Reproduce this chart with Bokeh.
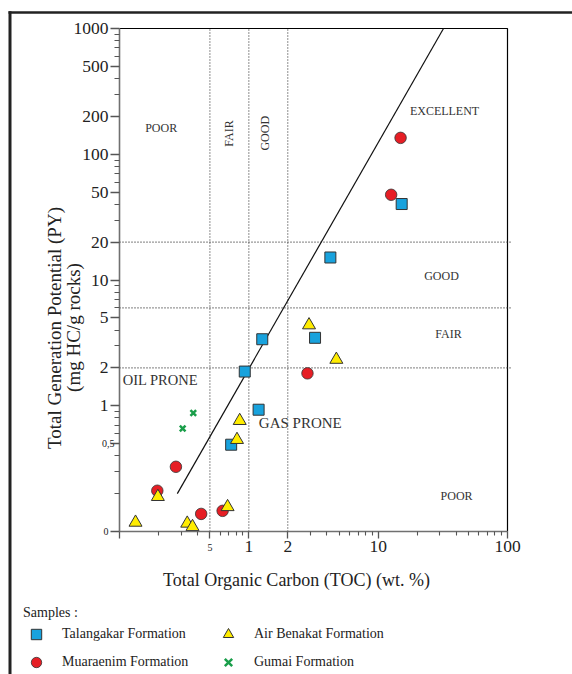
import math
from bokeh.plotting import figure
from bokeh.models import (Range1d, FixedTicker, Label, Legend, LegendItem, LogAxis)
from bokeh.embed import file_html
from bokeh.resources import INLINE

# ---------------- data ----------------
talangakar_toc = [0.73, 1.19, 0.93, 1.27, 3.25, 4.27, 15.2]
talangakar_py = [0.49, 0.93, 1.87, 3.38, 3.47, 15.1, 40.2]

muaraenim_toc = [0.273, 0.196, 0.428, 0.627, 2.84, 12.6, 14.9]
muaraenim_py = [0.327, 0.211, 0.138, 0.146, 1.81, 47.6, 135]

airbenakat_toc = [0.133, 0.198, 0.334, 0.367, 0.685, 0.81, 0.85, 2.92, 4.75]
airbenakat_py = [0.118, 0.189, 0.116, 0.109, 0.157, 0.537, 0.76, 4.38, 2.33]

gumai_toc = [0.372, 0.308]
gumai_py = [0.875, 0.66]

# class boundaries
toc_boundaries = [0.5, 1, 2]
py_boundaries = [2, 6, 20]
prone_line_toc = [0.28, 32]
prone_line_py = [0.2, 1000]

# axis extents and ticks
X0, X1 = 0.1, 100
Y0, Y1 = 0.1, 1000
x_ticks = [0.1, 0.5, 1, 2, 10, 100]
x_tick_labels = ["", "", "1", "2", "10", "100"]
x_minor = [0.2, 0.3, 0.4, 0.6, 0.7, 0.8, 0.9, 3, 4, 5, 6, 7, 8, 9,
           20, 30, 40, 50, 60, 70, 80, 90]
y_ticks = [0.1, 0.5, 1, 2, 5, 10, 20, 50, 100, 200, 500, 1000]
y_tick_labels = ["", "", "1", "2", "5", "10", "20", "50", "100", "200", "500", "1000"]
y_minor = [0.2, 0.3, 0.4, 0.6, 0.7, 0.8, 0.9, 3, 4, 6, 7, 8, 9,
           30, 40, 60, 70, 80, 90, 300, 400, 600, 700, 800, 900]
small_y_ticks = [0.1, 0.5]
small_y_labels = ["0", "0,5"]
small_x_ticks = [0.5]
small_x_labels = ["5"]

legend_labels = ["Talangakar Formation", "Muaraenim Formation",
                 "Air Benakat Formation", "Gumai Formation"]

SERIF = "Liberation Serif"
BLUE = "#18a2dd"
RED = "#e61e25"
YELLOW = "#ffec00"
GREEN = "#1a9e4a"
EDGE = "#333333"
DARK = "#222222"

# ---------------- layout geometry (page pixels) ----------------
W, H = 572, 674
FL, FR, FT, FB = 119, 507, 28, 531   # where the data box sits on the page


def x_at(px):
    return 10 ** (math.log10(X0) + (px - FL) / (FR - FL) * math.log10(X1 / X0))


def y_at(py):
    return 10 ** (math.log10(Y0) + (FB - py) / (FB - FT) * math.log10(Y1 / Y0))


# the frame covers the whole canvas; the data box is the region X0..X1 x Y0..Y1
p = figure(width=W, height=H, x_axis_type="log", y_axis_type="log",
           x_range=Range1d(x_at(0), x_at(W)), y_range=Range1d(y_at(H), y_at(0)),
           output_backend="svg", toolbar_location=None,
           x_axis_location=None, y_axis_location=None, min_border=0)
p.grid.visible = False
p.outline_line_color = None
p.background_fill_color = "white"
p.border_fill_color = "white"


def style_axis(ax, tick_out, minor_out, standoff):
    ax.axis_line_color = "#707070"
    ax.axis_line_width = 1.6
    ax.major_tick_line_color = "#555555"
    ax.minor_tick_line_color = "#555555"
    ax.major_tick_line_width = 1.3
    ax.minor_tick_line_width = 1.1
    ax.major_tick_in = 0
    ax.minor_tick_in = 0
    ax.major_tick_out = tick_out
    ax.minor_tick_out = minor_out
    ax.major_label_standoff = standoff
    ax.major_label_text_font = SERIF
    ax.major_label_text_font_size = "17.5px"
    ax.major_label_text_color = DARK


xaxis = LogAxis(fixed_location=Y0, bounds=(X0, X1),
                ticker=FixedTicker(ticks=x_ticks, minor_ticks=x_minor),
                major_label_overrides={t: l for t, l in zip(x_ticks, x_tick_labels)})
style_axis(xaxis, 7, 4, 2)
p.add_layout(xaxis, "below")

yaxis = LogAxis(fixed_location=X0, bounds=(Y0, Y1),
                ticker=FixedTicker(ticks=y_ticks, minor_ticks=y_minor),
                major_label_overrides={t: l for t, l in zip(y_ticks, y_tick_labels)})
style_axis(yaxis, 9, 5, 2)
p.add_layout(yaxis, "left")

# thick outer frame lines (left and top)
p.segment(x0=[x_at(9.5), x_at(8)], y0=[y_at(H + 10), y_at(12)],
          x1=[x_at(9.5), x_at(W + 10)], y1=[y_at(10.8), y_at(12)],
          line_color=DARK, line_width=[3, 2.5])

# data box: top and right edges
p.line([X0, X1, X1], [Y1, Y1, Y0], line_color="black", line_width=1.2)

# class boundaries (dotted)
p.segment(x0=toc_boundaries, y0=[Y0] * len(toc_boundaries),
          x1=toc_boundaries, y1=[Y1] * len(toc_boundaries),
          line_color="#333333", line_width=1.1, line_dash="1 2")
p.segment(x0=[X0] * len(py_boundaries), y0=py_boundaries,
          x1=[X1 * 1.07] * len(py_boundaries), y1=py_boundaries,
          line_color="#333333", line_width=1.1, line_dash="1 2")
p.line(prone_line_toc, prone_line_py, line_color="#111111", line_width=1.2)

# data
STY = dict(
    tal=dict(marker="square", size=11, fill_color=BLUE, line_color=EDGE, line_width=1),
    mua=dict(marker="circle", size=11.5, fill_color=RED, line_color=EDGE, line_width=0.8),
    air=dict(marker="triangle", size=13, fill_color=YELLOW, line_color=EDGE, line_width=1),
    gum=dict(marker="x", size=8, line_color=GREEN, line_width=2.5),
)
r_tal = p.scatter(talangakar_toc, talangakar_py, **STY["tal"])
r_mua = p.scatter(muaraenim_toc, muaraenim_py, **STY["mua"])
r_air = p.scatter(airbenakat_toc, airbenakat_py, **STY["air"])
r_gum = p.scatter(gumai_toc, gumai_py, **STY["gum"])


def text(txt, x, y, size="12px", angle=0.0, align="center", color="#333333"):
    p.add_layout(Label(x=x, y=y, text=txt, text_font=SERIF, text_font_size=size,
                       text_color=color, text_align=align,
                       text_baseline="middle", angle=angle))


# region labels
text("POOR", 0.21, 162)
text("FAIR", 0.70, 146, angle=math.pi / 2)
text("GOOD", 1.33, 147, angle=math.pi / 2)
text("EXCELLENT", 32.6, 222)
text("GOOD", 30.9, 10.8)
text("FAIR", 35, 3.74)
text("POOR", 40.4, 0.192)
text("OIL PRONE", 0.207, 1.61, size="14.5px")
text("GAS PRONE", 2.5, 0.73, size="15px")

# small tick labels
text(small_y_labels[0], x_at(108), small_y_ticks[0], size="10px", align="right", color=DARK)
text(small_y_labels[1], x_at(114), small_y_ticks[1], size="10px", align="right", color=DARK)
text(small_x_labels[0], small_x_ticks[0], y_at(547), size="10px", color=DARK)

# axis titles
text("Total Organic Carbon (TOC) (wt. %)", x_at(296), y_at(579), size="18px", color=DARK)
text("Total Generation Potential (PY)", x_at(53.5), y_at(327.5), size="19px",
     angle=math.pi / 2, color=DARK)
text("(mg HC/g rocks)", x_at(72.5), y_at(327), size="19px",
     angle=math.pi / 2, color=DARK)

# legend
legend = Legend(items=[LegendItem(label=l, renderers=[r])
                       for l, r in zip(legend_labels, [r_tal, r_mua, r_air, r_gum])],
                title="Samples :", location=(23, -1), orientation="vertical",
                nrows=2, glyph_width=26, glyph_height=26, spacing=2,
                label_standoff=13, label_width=151, padding=0, margin=0,
                border_line_alpha=0, background_fill_alpha=0,
                label_text_font=SERIF, label_text_font_size="14px",
                label_text_color=DARK, title_text_font=SERIF,
                title_text_font_size="14px", title_text_font_style="normal",
                title_text_color=DARK, title_standoff=0)
p.add_layout(legend, "center")

open("out.html", "w").write(file_html(p, INLINE))
